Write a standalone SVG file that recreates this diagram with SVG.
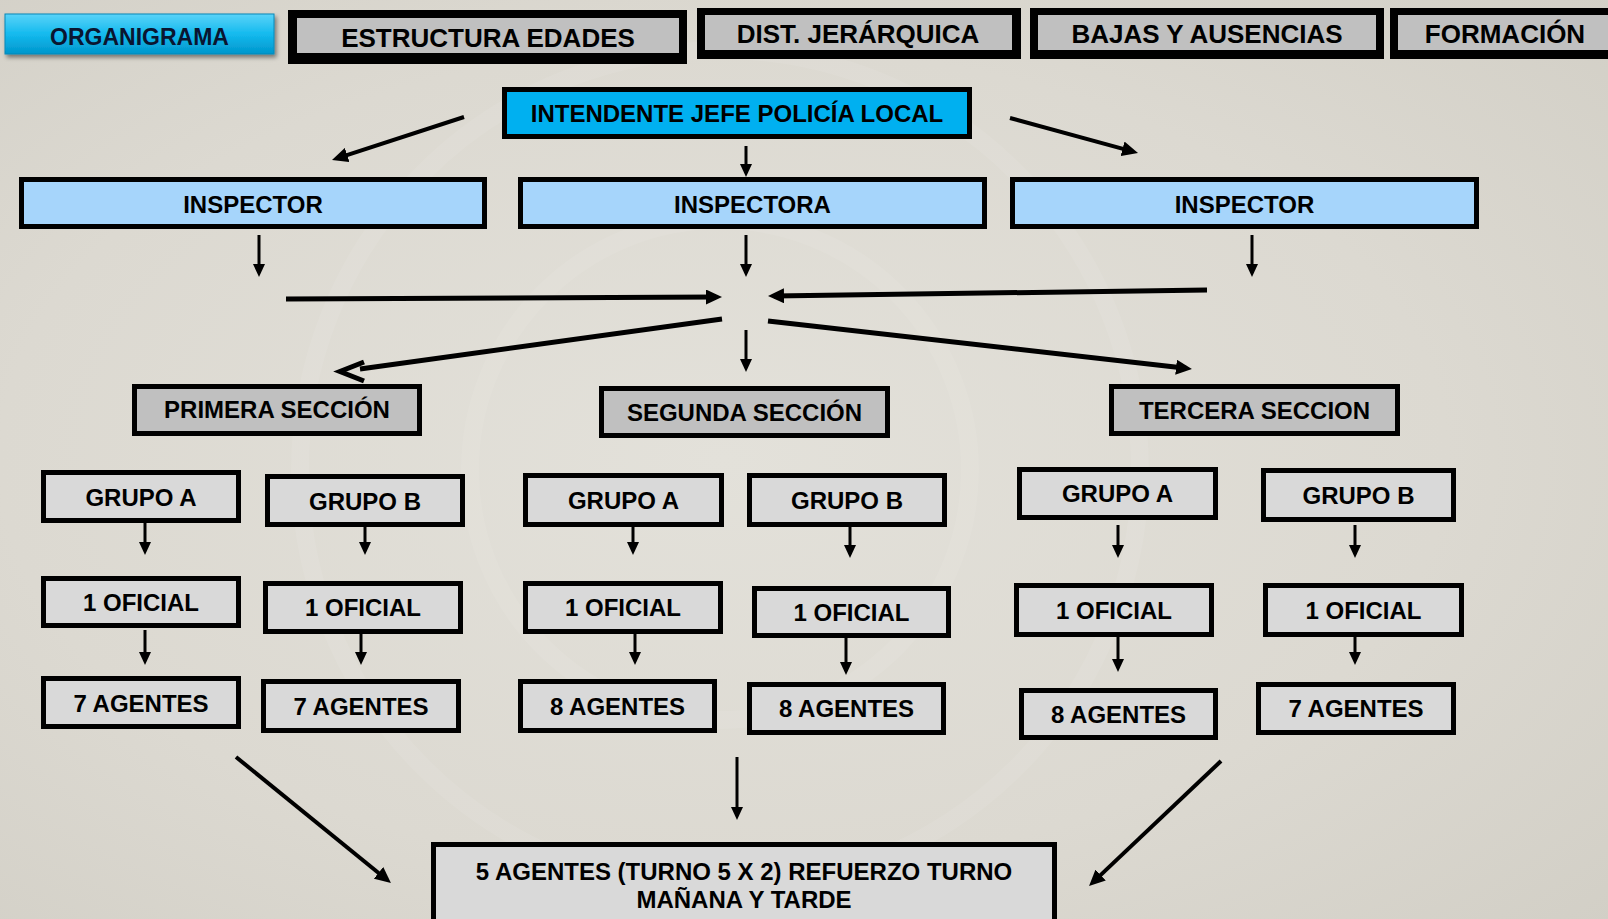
<svg xmlns="http://www.w3.org/2000/svg" width="1608" height="919" viewBox="0 0 1608 919">
<style>
text{font-family:"Liberation Sans",Arial,"DejaVu Sans",sans-serif;font-weight:bold;fill:#000;text-anchor:middle}
.t24{font-size:24px}
.t26{font-size:26px}
.blue{fill:#00B0F0;stroke:#000;stroke-width:5}
.lblue{fill:#A6D5FB;stroke:#000;stroke-width:5}
.sec{fill:#C0C0C0;stroke:#000;stroke-width:5}
.grp{fill:#D9D9D9;stroke:#000;stroke-width:5}
.tabo{fill:#000}
.tabi{fill:#C0C0C0}
.s{stroke:#000;stroke-width:3;fill:none;marker-end:url(#sm)}
.m{stroke:#000;stroke-width:4;fill:none;marker-end:url(#lg)}
.l{stroke:#000;stroke-width:5;fill:none;marker-end:url(#lg)}
</style>
<defs>
<radialGradient id="bg" cx="0.45" cy="0.5" r="0.75">
<stop offset="0" stop-color="#E3E1DA"/>
<stop offset="0.6" stop-color="#DCD9D1"/>
<stop offset="1" stop-color="#D2CFC6"/>
</radialGradient>
<linearGradient id="btn" x1="0" y1="0" x2="0" y2="1">
<stop offset="0" stop-color="#5AD3F8"/>
<stop offset="0.5" stop-color="#14BAEE"/>
<stop offset="1" stop-color="#0096CC"/>
</linearGradient>
<filter id="sh" x="-10%" y="-30%" width="120%" height="170%">
<feDropShadow dx="2" dy="3" stdDeviation="2" flood-color="#000" flood-opacity="0.45"/>
</filter>
<marker id="sm" markerUnits="userSpaceOnUse" markerWidth="13" markerHeight="12" viewBox="0 0 13 12" refX="9" refY="6" orient="auto"><path d="M0,0 L13,6 L0,12 Z" fill="#000"/></marker>
<marker id="lg" markerUnits="userSpaceOnUse" markerWidth="16" markerHeight="15" viewBox="0 0 16 15" refX="10" refY="7.5" orient="auto"><path d="M0,0 L16,7.5 L0,15 Z" fill="#000"/></marker>
</defs>
<rect x="0" y="0" width="1608" height="919" fill="url(#bg)"/>
<g fill="none" stroke="#FFFFFF" stroke-opacity="0.07" stroke-width="18">
<circle cx="720" cy="470" r="250"/>
<circle cx="720" cy="470" r="420"/>
</g>

<!-- Top tabs -->
<g id="tab-organigrama">
<rect x="5" y="14" width="269" height="40" fill="url(#btn)" stroke="#0A88B8" stroke-width="1" filter="url(#sh)"/>
<text x="139.5" y="45" style="font-size:23px;fill:#0A1530">ORGANIGRAMA</text>
</g>
<g id="tab-estructura">
<rect class="tabo" x="288" y="10" width="399" height="54"/>
<rect class="tabi" x="297" y="18" width="382" height="35"/>
<text class="t26" x="488" y="46.5">ESTRUCTURA EDADES</text>
</g>
<g id="tab-dist">
<rect class="tabo" x="697" y="8" width="324" height="51"/>
<rect class="tabi" x="705" y="15" width="307" height="35"/>
<text class="t26" x="858" y="43">DIST. JERÁRQUICA</text>
</g>
<g id="tab-bajas">
<rect class="tabo" x="1030" y="8" width="354" height="51"/>
<rect class="tabi" x="1038" y="15" width="338" height="35"/>
<text class="t26" x="1207" y="43">BAJAS Y AUSENCIAS</text>
</g>
<g id="tab-formacion">
<rect class="tabo" x="1390" y="8" width="240" height="51"/>
<rect class="tabi" x="1398" y="15" width="230" height="35"/>
<text class="t26" x="1505" y="43">FORMACIÓN</text>
</g>

<!-- Connectors -->
<g id="connectors">
<line class="m" x1="464" y1="117" x2="337.7" y2="158.1"/>
<line class="m" x1="1010" y1="118" x2="1132.2" y2="151.4"/>
<line class="s" x1="746" y1="146" x2="746" y2="173"/>
<line class="s" x1="259" y1="235" x2="259" y2="273"/>
<line class="s" x1="746" y1="235" x2="746" y2="273"/>
<line class="s" x1="1252" y1="235" x2="1252" y2="273"/>
<line class="l" x1="286" y1="299" x2="716" y2="297"/>
<line class="l" x1="1207" y1="290" x2="774" y2="296"/>
<line stroke="#000" stroke-width="5" x1="722" y1="319" x2="360" y2="369"/>
<path d="M364,362 L340,371.5 L364,381" stroke="#000" stroke-width="5" fill="none"/>
<line class="s" x1="746" y1="330" x2="746" y2="368"/>
<line class="l" x1="768" y1="321" x2="1186" y2="368.3"/>
<line class="s" x1="145" y1="523" x2="145" y2="551"/>
<line class="s" x1="145" y1="630" x2="145" y2="661"/>
<line class="s" x1="365" y1="527" x2="365" y2="551"/>
<line class="s" x1="361" y1="634" x2="361" y2="661"/>
<line class="s" x1="633" y1="527" x2="633" y2="551"/>
<line class="s" x1="635" y1="634" x2="635" y2="661"/>
<line class="s" x1="850" y1="527" x2="850" y2="554"/>
<line class="s" x1="846" y1="638" x2="846" y2="671"/>
<line class="s" x1="1118" y1="525" x2="1118" y2="554"/>
<line class="s" x1="1118" y1="637" x2="1118" y2="668"/>
<line class="s" x1="1355" y1="525" x2="1355" y2="554"/>
<line class="s" x1="1355" y1="637" x2="1355" y2="661"/>
<line class="m" x1="236" y1="757" x2="386.3" y2="879.2"/>
<line class="s" x1="737" y1="757" x2="737" y2="816"/>
<line class="m" x1="1221" y1="761" x2="1093.4" y2="881.9"/>
</g>

<!-- Nodes -->
<g id="intendente">
<rect class="blue" x="504.5" y="89.5" width="465" height="47"/>
<text class="t24" x="737" y="122">INTENDENTE JEFE POLICÍA LOCAL</text>
</g>
<g id="inspector-1">
<rect class="lblue" x="21.5" y="179.5" width="463" height="47"/>
<text class="t24" x="253" y="213">INSPECTOR</text>
</g>
<g id="inspectora">
<rect class="lblue" x="520.5" y="179.5" width="464" height="47"/>
<text class="t24" x="752.5" y="213">INSPECTORA</text>
</g>
<g id="inspector-2">
<rect class="lblue" x="1012.5" y="179.5" width="464" height="47"/>
<text class="t24" x="1244.5" y="213">INSPECTOR</text>
</g>

<g id="primera-seccion">
<rect class="sec" x="134.5" y="386.5" width="285" height="47"/>
<text class="t24" x="277" y="418">PRIMERA SECCIÓN</text>
</g>
<g id="segunda-seccion">
<rect class="sec" x="601.5" y="388.5" width="286" height="47"/>
<text class="t24" x="744.5" y="421">SEGUNDA SECCIÓN</text>
</g>
<g id="tercera-seccion">
<rect class="sec" x="1111.5" y="386.5" width="286" height="47"/>
<text class="t24" x="1254.5" y="419">TERCERA SECCION</text>
</g>

<g id="grupo-a-1"><rect class="grp" x="43.5" y="472.5" width="195" height="48"/><text class="t24" x="141" y="506">GRUPO A</text></g>
<g id="grupo-b-1"><rect class="grp" x="267.5" y="476.5" width="195" height="48"/><text class="t24" x="365" y="510">GRUPO B</text></g>
<g id="grupo-a-2"><rect class="grp" x="525.5" y="475.5" width="196" height="49"/><text class="t24" x="623.5" y="509">GRUPO A</text></g>
<g id="grupo-b-2"><rect class="grp" x="749.5" y="475.5" width="195" height="49"/><text class="t24" x="847" y="509">GRUPO B</text></g>
<g id="grupo-a-3"><rect class="grp" x="1019.5" y="469.5" width="196" height="48"/><text class="t24" x="1117.5" y="502">GRUPO A</text></g>
<g id="grupo-b-3"><rect class="grp" x="1263.5" y="470.5" width="190" height="49"/><text class="t24" x="1358.5" y="504">GRUPO B</text></g>

<g id="oficial-1"><rect class="grp" x="43.5" y="578.5" width="195" height="47"/><text class="t24" x="141" y="611">1 OFICIAL</text></g>
<g id="oficial-2"><rect class="grp" x="265.5" y="583.5" width="195" height="48"/><text class="t24" x="363" y="616">1 OFICIAL</text></g>
<g id="oficial-3"><rect class="grp" x="525.5" y="583.5" width="195" height="48"/><text class="t24" x="623" y="616">1 OFICIAL</text></g>
<g id="oficial-4"><rect class="grp" x="754.5" y="588.5" width="194" height="47"/><text class="t24" x="851.5" y="621">1 OFICIAL</text></g>
<g id="oficial-5"><rect class="grp" x="1016.5" y="585.5" width="195" height="49"/><text class="t24" x="1114" y="619">1 OFICIAL</text></g>
<g id="oficial-6"><rect class="grp" x="1265.5" y="585.5" width="196" height="49"/><text class="t24" x="1363.5" y="619">1 OFICIAL</text></g>

<g id="agentes-1"><rect class="grp" x="43.5" y="678.5" width="195" height="48"/><text class="t24" x="141" y="711.5">7 AGENTES</text></g>
<g id="agentes-2"><rect class="grp" x="263.5" y="681.5" width="195" height="49"/><text class="t24" x="361" y="715">7 AGENTES</text></g>
<g id="agentes-3"><rect class="grp" x="520.5" y="681.5" width="194" height="49"/><text class="t24" x="617.5" y="715">8 AGENTES</text></g>
<g id="agentes-4"><rect class="grp" x="749.5" y="684.5" width="194" height="48"/><text class="t24" x="846.5" y="717">8 AGENTES</text></g>
<g id="agentes-5"><rect class="grp" x="1021.5" y="690.5" width="194" height="47"/><text class="t24" x="1118.5" y="723">8 AGENTES</text></g>
<g id="agentes-6"><rect class="grp" x="1258.5" y="684.5" width="195" height="48"/><text class="t24" x="1356" y="717">7 AGENTES</text></g>

<g id="refuerzo">
<rect class="grp" x="433.5" y="844.5" width="621" height="100"/>
<text class="t24" x="744" y="879.5">5 AGENTES (TURNO 5 X 2) REFUERZO TURNO</text>
<text class="t24" x="744" y="908">MAÑANA Y TARDE</text>
</g>
</svg>
